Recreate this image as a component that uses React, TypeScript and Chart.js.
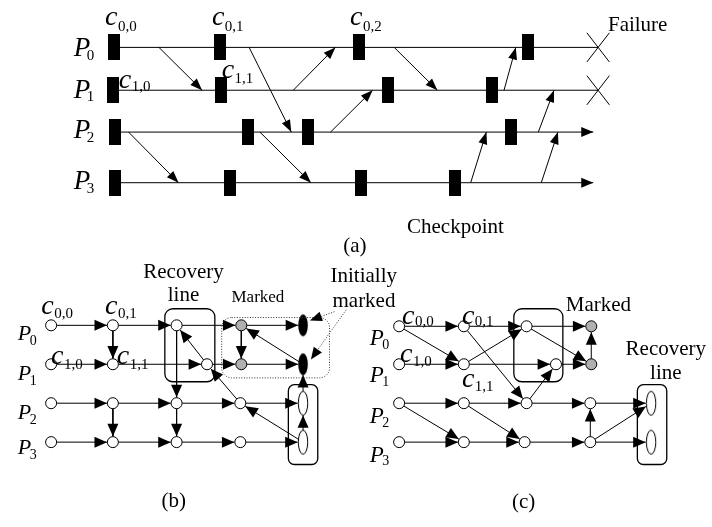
import React, { useEffect, useRef } from "react";
import { Chart, registerables } from "chart.js";

Chart.register(...registerables);

const W = 712;
const H = 527;
const SERIF = "'Liberation Serif', 'Times New Roman', serif";

const processIds = ["0", "1", "2", "3"];

// ---------- (a) space-time diagram ----------
const aRowY = [41.5, 85.5, 128.5, 180.5];
const aLineStartX = [109, 108, 110, 110];
const aLineEndX = [603, 603, 598, 598];
const aFailed = [true, true, false, false];
const aCheckpointX = [
  [109, 217, 359, 531],
  [108, 218, 389, 495],
  [110, 246, 307, 514],
  [110, 227, 361, 457],
];
// [fromProcess, sendX, toProcess, receiveX]
const aMessages = [
  [0, 155, 1, 199],
  [0, 247, 2, 290],
  [1, 292, 0, 335],
  [2, 330, 1, 373],
  [0, 395, 1, 439],
  [1, 507, 0, 519],
  [2, 542, 1, 558],
  [3, 473, 2, 489],
  [3, 545, 2, 562],
  [2, 124, 3, 175],
  [2, 258, 3, 310],
];

// ---------- (b) rollback-dependency graph ----------
const bRowY = [327, 367, 407, 447];
const bNodeX = [
  [45, 108, 173, 239, 302],
  [45, 108, 204, 239, 302],
  [45, 108, 173, 238, 302],
  [45, 108, 173, 238, 302],
];
// o: white node, g: marked (grey), B: initially marked (black ellipse), E: white ellipse
const bNodeKind = [
  ["o", "o", "o", "g", "B"],
  ["o", "o", "o", "g", "B"],
  ["o", "o", "o", "o", "E"],
  ["o", "o", "o", "o", "E"],
];
// [fromRow, fromCol, toRow, toCol]
const bEdges = [
  [0, 0, 0, 1], [0, 1, 0, 2], [0, 2, 0, 3], [0, 3, 0, 4],
  [1, 0, 1, 1], [1, 1, 1, 2], [1, 2, 1, 3], [1, 3, 1, 4],
  [2, 0, 2, 1], [2, 1, 2, 2], [2, 2, 2, 3], [2, 3, 2, 4],
  [3, 0, 3, 1], [3, 1, 3, 2], [3, 2, 3, 3], [3, 3, 3, 4],
  [0, 1, 1, 1], [0, 3, 1, 3], [0, 2, 2, 2], [2, 1, 3, 1], [2, 2, 3, 2],
  [3, 4, 2, 4], [2, 4, 1, 4],
  [1, 2, 0, 2], [2, 3, 1, 2], [1, 4, 0, 3], [3, 4, 2, 3],
];

// ---------- (c) ----------
const cRowY = [328, 367, 407, 447];
const cNodeX = [
  [400, 466, 530, 596],
  [400, 466, 560, 596],
  [400, 466, 530, 595, 657],
  [400, 466, 528, 595, 657],
];
const cNodeKind = [
  ["o", "o", "o", "g"],
  ["o", "o", "o", "g"],
  ["o", "o", "o", "o", "E"],
  ["o", "o", "o", "o", "E"],
];
const cEdges = [
  [0, 0, 0, 1], [0, 1, 0, 2], [0, 2, 0, 3],
  [1, 0, 1, 1], [1, 1, 1, 2], [1, 2, 1, 3],
  [2, 0, 2, 1], [2, 1, 2, 2], [2, 2, 2, 3], [2, 3, 2, 4],
  [3, 0, 3, 1], [3, 1, 3, 2], [3, 2, 3, 3], [3, 3, 3, 4],
  [1, 3, 0, 3], [3, 3, 2, 3],
  [0, 0, 1, 1], [1, 1, 0, 2], [0, 1, 2, 2], [2, 2, 1, 2], [0, 2, 1, 3],
  [2, 0, 3, 1], [2, 1, 3, 2], [3, 3, 2, 4],
];

// ---------- labels ----------
// [subscript, x, baseline, subBaseline]
const aCkLabels = [
  ["0,0", 100, 19, 25], ["0,1", 209, 19, 25], ["0,2", 350, 19, 25],
  ["1,0", 114, 83, 86], ["1,1", 219, 73, 78],
];
const bCkLabels = [
  ["0,0", 35, 315, 319], ["0,1", 100, 315, 319],
  ["1,0", 45, 367, 372], ["1,1", 112, 367, 372],
];
const cCkLabels = [
  ["0,0", 403, 326, 328], ["0,1", 464, 326, 328],
  ["1,0", 401, 365, 369], ["1,1", 464, 390, 394],
];
const aProcBaseline = [50, 93, 135, 187];
const bProcBaseline = [342, 383, 423, 459];
const cProcBaseline = [347, 385, 427, 467];

// [text, x, baseline, size, align]
const plainTexts: [string, number, number, number, CanvasTextAlign][] = [
  ["Failure", 613, 25, 21, "left"],
  ["Checkpoint", 408, 232, 21, "left"],
  ["(a)", 343, 252, 21, "left"],
  ["Recovery", 180, 278, 21, "center"],
  ["line", 180, 302, 21, "center"],
  ["Marked", 229, 303, 17, "left"],
  ["Initially", 330, 283, 21, "left"],
  ["marked", 332, 308, 21, "left"],
  ["Marked", 570, 312, 21, "left"],
  ["Recovery", 672, 357, 21, "center"],
  ["line", 672, 382, 21, "center"],
  ["(b)", 170, 514, 21, "center"],
  ["(c)", 527, 515, 21, "center"],
];

// [x1, y1, x2, y2, radius, dotted]
const boxes: [number, number, number, number, number, boolean][] = [
  [161, 310, 212, 385, 8, false],
  [219, 319, 329, 381, 10, true],
  [287, 388, 317, 470, 6, false],
  [517, 310, 567, 385, 8, false],
  [643, 388, 673, 470, 6, false],
];
// dotted pointers from "Initially marked": [fromX, fromY, toX, toY]
const pointerArrows = [
  [334, 313, 309, 322],
  [346, 311, 310, 362],
];

type Seg = { sx: number; sy: number; tx: number; ty: number };

function boundary(kind: string, ux: number, uy: number) {
  if (kind === "B") return 1 / Math.sqrt((ux / 5) ** 2 + (uy / 11) ** 2);
  if (kind === "E") return 1 / Math.sqrt((ux / 5.5) ** 2 + (uy / 12.5) ** 2);
  return 6;
}

function graphSegs(rowY: number[], nodeX: number[][], kinds: string[][], edges: number[][]): Seg[] {
  return edges.map(([r1, c1, r2, c2]) => {
    const sx = nodeX[r1][c1];
    const sy = rowY[r1];
    const tx0 = nodeX[r2][c2];
    const ty0 = rowY[r2];
    const dx = tx0 - sx;
    const dy = ty0 - sy;
    const L = Math.hypot(dx, dy);
    const ux = dx / L;
    const uy = dy / L;
    const d = boundary(kinds[r2][c2], ux, uy);
    return { sx, sy, tx: tx0 - ux * d, ty: ty0 - uy * d };
  });
}

function nodesOf(rowY: number[], nodeX: number[][], kinds: string[][], want: string) {
  const pts: { x: number; y: number }[] = [];
  nodeX.forEach((row, r) =>
    row.forEach((x, c) => {
      if (kinds[r][c] === want) pts.push({ x, y: rowY[r] });
    })
  );
  return pts;
}

function segData(segs: Seg[]) {
  const out: { x: number; y: number | null }[] = [];
  segs.forEach((s) => {
    out.push({ x: s.sx, y: s.sy }, { x: s.tx, y: s.ty }, { x: s.tx, y: null });
  });
  return out;
}

function makeImg(w: number, h: number, draw: (c: CanvasRenderingContext2D) => void) {
  const cv = document.createElement("canvas");
  cv.width = w;
  cv.height = h;
  const c = cv.getContext("2d")!;
  draw(c);
  return cv;
}

function arrowHead(ctx: CanvasRenderingContext2D, fx: number, fy: number, tx: number, ty: number, len: number, hw: number) {
  const a = Math.atan2(ty - fy, tx - fx);
  const bx = tx - len * Math.cos(a);
  const by = ty - len * Math.sin(a);
  ctx.beginPath();
  ctx.moveTo(tx, ty);
  ctx.lineTo(bx + hw * Math.sin(a), by - hw * Math.cos(a));
  ctx.lineTo(bx - hw * Math.sin(a), by + hw * Math.cos(a));
  ctx.closePath();
  ctx.fill();
}

export default function App() {
  const ref = useRef<HTMLCanvasElement | null>(null);

  useEffect(() => {
    if (!ref.current) return;

    const aSegs: Seg[] = aMessages.map(([p1, x1, p2, x2]) => ({ sx: x1, sy: aRowY[p1], tx: x2, ty: aRowY[p2] }));
    const bSegs = graphSegs(bRowY, bNodeX, bNodeKind, bEdges);
    const cSegs = graphSegs(cRowY, cNodeX, cNodeKind, cEdges);

    const procLines: Seg[] = aRowY.map((y, i) => ({ sx: aLineStartX[i], sy: y, tx: aLineEndX[i], ty: y }));
    const failMarks: Seg[] = [];
    aRowY.forEach((y, i) => {
      if (aFailed[i]) {
        const x = aLineEndX[i];
        failMarks.push({ sx: x - 11.5, sy: y - 15, tx: x + 11.5, ty: y + 15 });
        failMarks.push({ sx: x + 11.5, sy: y - 15, tx: x - 11.5, ty: y + 15 });
      }
    });

    const ckPts: { x: number; y: number }[] = [];
    aCheckpointX.forEach((row, i) => row.forEach((x) => ckPts.push({ x, y: aRowY[i] })));

    const ckImg = makeImg(12, 26, (c) => {
      c.fillStyle = "#000";
      c.fillRect(0, 0, 12, 26);
    });
    const blackEll = makeImg(12, 24, (c) => {
      c.fillStyle = "#000";
      c.beginPath();
      c.ellipse(6, 12, 4.8, 11, 0, 0, Math.PI * 2);
      c.fill();
    });
    const whiteEll = makeImg(12, 27, (c) => {
      c.fillStyle = "#fff";
      c.strokeStyle = "#000";
      c.lineWidth = 1;
      c.beginPath();
      c.ellipse(6, 13.5, 4.7, 12, 0, 0, Math.PI * 2);
      c.fill();
      c.stroke();
    });

    const white = [...nodesOf(bRowY, bNodeX, bNodeKind, "o"), ...nodesOf(cRowY, cNodeX, cNodeKind, "o")];
    const grey = [...nodesOf(bRowY, bNodeX, bNodeKind, "g"), ...nodesOf(cRowY, cNodeX, cNodeKind, "g")];
    const blackE = [...nodesOf(bRowY, bNodeX, bNodeKind, "B"), ...nodesOf(cRowY, cNodeX, cNodeKind, "B")];
    const whiteE = [...nodesOf(bRowY, bNodeX, bNodeKind, "E"), ...nodesOf(cRowY, cNodeX, cNodeKind, "E")];

    const pointDs = (label: string, data: any[], extra: any, order: number) => ({
      label,
      data,
      showLine: false,
      clip: false,
      order,
      pointHoverRadius: 0,
      ...extra,
    });
    const lineDs = (label: string, segs: Seg[], color: string, width: number, order: number) => ({
      label,
      data: segData(segs),
      showLine: true,
      spanGaps: false,
      clip: false,
      order,
      borderColor: color,
      borderWidth: width,
      pointRadius: 0,
      pointHoverRadius: 0,
      tension: 0,
    });

    const drawPlugin = {
      id: "diagram",
      beforeDraw(chart: any) {
        const ctx = chart.ctx;
        ctx.save();
        ctx.fillStyle = "#fff";
        ctx.fillRect(0, 0, chart.width, chart.height);
        ctx.restore();
      },
      afterDatasetsDraw(chart: any) {
        const ctx: CanvasRenderingContext2D = chart.ctx;
        const xs = chart.scales.x;
        const ys = chart.scales.y;
        const px = (v: number) => xs.getPixelForValue(v);
        const py = (v: number) => ys.getPixelForValue(v);
        ctx.save();
        ctx.fillStyle = "#000";
        ctx.strokeStyle = "#000";

        // arrowheads (a)
        aSegs.forEach((s) => arrowHead(ctx, px(s.sx), py(s.sy), px(s.tx), py(s.ty), 12, 4.5));
        procLines.forEach((s, i) => {
          if (!aFailed[i]) arrowHead(ctx, px(s.sx), py(s.sy), px(s.tx), py(s.ty), 12, 5);
        });
        // arrowheads (b), (c)
        [...bSegs, ...cSegs].forEach((s) => arrowHead(ctx, px(s.sx), py(s.sy), px(s.tx), py(s.ty), 12.5, 5.5));

        // boxes
        boxes.forEach(([x1, y1, x2, y2, r, dotted]) => {
          ctx.save();
          ctx.lineWidth = dotted ? 1 : 1.3;
          ctx.strokeStyle = dotted ? "#333" : "#000";
          if (dotted) ctx.setLineDash([1, 1.6]);
          ctx.beginPath();
          ctx.roundRect(px(x1), py(y1), px(x2) - px(x1), py(y2) - py(y1), r);
          ctx.stroke();
          ctx.restore();
        });

        // dotted pointers
        pointerArrows.forEach(([fx, fy, tx, ty]) => {
          const a = Math.atan2(py(ty) - py(fy), px(tx) - px(fx));
          ctx.save();
          ctx.lineWidth = 1;
          ctx.strokeStyle = "#333";
          ctx.setLineDash([1, 1.6]);
          ctx.beginPath();
          ctx.moveTo(px(fx), py(fy));
          ctx.lineTo(px(tx) - 10 * Math.cos(a), py(ty) - 10 * Math.sin(a));
          ctx.stroke();
          ctx.restore();
          arrowHead(ctx, px(fx), py(fy), px(tx), py(ty), 12, 5);
        });

        // texts
        ctx.textBaseline = "alphabetic";
        const sub = (base: string, s: string, x: number, y: number, sy: number, bf: string, sf: string, dx: number) => {
          ctx.textAlign = "left";
          ctx.font = bf;
          ctx.fillText(base, px(x), py(y));
          const w = ctx.measureText(base).width;
          ctx.font = sf;
          ctx.fillText(s, px(x) + w + dx, py(sy));
        };
        const ckFont = `italic 28px ${SERIF}`;
        const ckSub = `15px ${SERIF}`;
        [...aCkLabels, ...bCkLabels, ...cCkLabels].forEach(([s, x, y, sy]) =>
          sub("c", s as string, x as number, y as number, sy as number, ckFont, ckSub, 0.5)
        );
        processIds.forEach((id, i) => {
          sub("P", id, 68, aProcBaseline[i], aProcBaseline[i] + 4, `italic 27px ${SERIF}`, `15px ${SERIF}`, -3.5);
          sub("P", id, 11, bProcBaseline[i], bProcBaseline[i] + 5, `italic 22px ${SERIF}`, `14px ${SERIF}`, -1.5);
          sub("P", id, 370, cProcBaseline[i], cProcBaseline[i] + 4, `italic 23px ${SERIF}`, `14px ${SERIF}`, -1.5);
        });
        plainTexts.forEach(([t, x, y, size, align]) => {
          ctx.font = `${size}px ${SERIF}`;
          ctx.textAlign = align;
          ctx.fillText(t, px(x), py(y));
        });
        ctx.restore();
      },
    };

    const chart = new Chart(ref.current, {
      type: "scatter",
      data: {
        datasets: [
          pointDs("nodes", white, { pointRadius: 5.5, pointBackgroundColor: "#fff", pointBorderColor: "#000", pointBorderWidth: 1 }, 0),
          pointDs("marked", grey, { pointRadius: 5.5, pointBackgroundColor: "#b0b0b0", pointBorderColor: "#000", pointBorderWidth: 1 }, 0),
          pointDs("initially marked", blackE, { pointRadius: 6, pointStyle: blackEll }, 0),
          pointDs("recovery", whiteE, { pointRadius: 6, pointStyle: whiteEll }, 0),
          pointDs("checkpoints", ckPts, { pointRadius: 6, pointStyle: ckImg }, 0),
          lineDs("edges b", bSegs, "#000", 1, 5),
          lineDs("edges c", cSegs, "#000", 1, 5),
          lineDs("messages", aSegs, "#000", 1, 5),
          lineDs("processes", procLines, "#000", 1, 6),
          lineDs("failures", failMarks, "#000", 1, 6),
        ] as any,
      },
      options: {
        responsive: false,
        maintainAspectRatio: false,
        animation: false,
        devicePixelRatio: 1,
        events: [],
        layout: { padding: 0 },
        scales: {
          x: { type: "linear", min: 0, max: W, display: false },
          y: { type: "linear", min: 0, max: H, reverse: true, display: false },
        },
        plugins: {
          legend: { display: false },
          tooltip: { enabled: false },
          title: { display: false },
        },
      } as any,
      plugins: [drawPlugin],
    });
    return () => chart.destroy();
  }, []);

  return (
    <div style={{ position: "absolute", left: 0, top: 0, width: W, height: H, background: "#fff" }}>
      <canvas ref={ref} width={W} height={H} style={{ display: "block", width: W, height: H }} />
    </div>
  );
}
